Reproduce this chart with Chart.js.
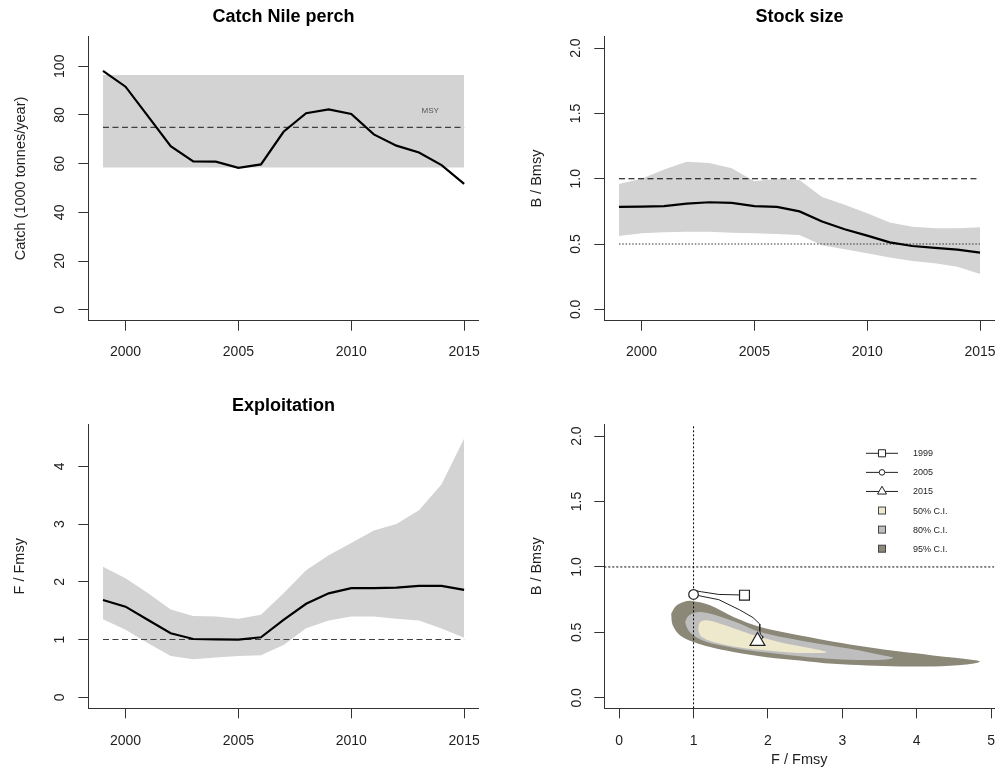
<!DOCTYPE html>
<html>
<head>
<meta charset="utf-8">
<title>Nile perch stock assessment</title>
<script src="https://cdn.jsdelivr.net/npm/chart.js@4.4.1/dist/chart.umd.min.js"></script>
<style>
  html, body { margin: 0; padding: 0; background: #ffffff; }
  body { position: relative; width: 998px; height: 776px; overflow: hidden; }
  canvas { position: absolute; }
</style>
</head>
<body>
<canvas id="catchPanel" width="499" height="388" style="left:0;top:0"></canvas>
<canvas id="stockPanel" width="499" height="388" style="left:499px;top:0"></canvas>
<canvas id="exploitPanel" width="499" height="388" style="left:0;top:388px"></canvas>
<canvas id="kobePanel" width="499" height="388" style="left:499px;top:388px"></canvas>
<script>
// ---------------- data ----------------
const years = [1999, 2000, 2001, 2002, 2003, 2004, 2005, 2006, 2007, 2008, 2009, 2010, 2011, 2012, 2013, 2014, 2015];

// catch, 1000 tonnes/year
const catchKt = [98.1, 91.6, 79.4, 67.2, 60.9, 60.8, 58.3, 59.7, 73.1, 80.7, 82.3, 80.4, 72.0, 67.4, 64.6, 59.4, 51.7];
const msy = 74.9;
const msyLower = 58.4;
const msyUpper = 96.4;
const msyLabelAt = [2013.5, 81.9];

// relative biomass B/Bmsy with credible band
const bRatio      = [0.784, 0.787, 0.790, 0.810, 0.820, 0.815, 0.790, 0.784, 0.750, 0.672, 0.613, 0.564, 0.513, 0.485, 0.470, 0.457, 0.434];
const bRatioUpper = [0.960, 1.000, 1.070, 1.130, 1.120, 1.080, 0.980, 1.000, 0.990, 0.860, 0.800, 0.735, 0.664, 0.633, 0.620, 0.620, 0.628];
const bRatioLower = [0.562, 0.582, 0.590, 0.595, 0.595, 0.587, 0.582, 0.577, 0.570, 0.490, 0.460, 0.430, 0.396, 0.370, 0.352, 0.327, 0.270];

// relative fishing mortality F/Fmsy with credible band
const fRatio      = [1.685, 1.570, 1.340, 1.110, 1.010, 1.004, 1.000, 1.040, 1.340, 1.620, 1.800, 1.890, 1.890, 1.900, 1.930, 1.930, 1.860];
const fRatioUpper = [2.26, 2.06, 1.80, 1.52, 1.41, 1.40, 1.36, 1.43, 1.80, 2.20, 2.46, 2.67, 2.89, 3.00, 3.24, 3.69, 4.48];
const fRatioLower = [1.35, 1.17, 0.935, 0.716, 0.66, 0.69, 0.716, 0.727, 0.906, 1.195, 1.33, 1.40, 1.40, 1.36, 1.33, 1.19, 1.03];

// joint F/Fmsy - B/Bmsy credible regions of the final year, outlines as [F, B]
const ci95 = [[0.699,0.643],[0.76,0.70],[0.865,0.732],[0.977,0.740],[1.223,0.707],[1.537,0.617],[1.895,0.541],[2.433,0.477],[3.33,0.388],[4.22,0.324],[4.81,0.286],[4.85,0.273],[4.67,0.255],[4.22,0.240],[3.78,0.240],[3.33,0.247],[2.88,0.260],[2.43,0.286],[1.985,0.311],[1.537,0.350],[1.223,0.388],[1.0,0.426],[0.82,0.477],[0.72,0.554]];
const ci80 = [[0.887,0.579],[0.92,0.620],[0.977,0.643],[1.089,0.656],[1.313,0.630],[1.626,0.566],[1.895,0.503],[2.433,0.439],[3.105,0.375],[3.553,0.324],[3.687,0.306],[3.553,0.291],[3.105,0.291],[2.657,0.306],[2.209,0.332],[1.761,0.362],[1.447,0.393],[1.178,0.426],[1.0,0.477],[0.918,0.528]];
const ci50 = [[1.066,0.541],[1.089,0.579],[1.178,0.592],[1.358,0.566],[1.626,0.515],[1.895,0.464],[2.254,0.413],[2.612,0.375],[2.79,0.349],[2.612,0.342],[2.254,0.349],[1.895,0.367],[1.537,0.393],[1.268,0.426],[1.111,0.464],[1.07,0.503]];
const ciLabels = ['50% C.I.', '80% C.I.', '95% C.I.'];
const markerYears = [1999, 2005, 2015];

// axis ticks and ranges
const yearTicks = [2000, 2005, 2010, 2015];
const catchTicks = [0, 20, 40, 60, 80, 100];
const ratioTicks = [0, 0.5, 1, 1.5, 2];
const exploitTicks = [0, 1, 2, 3, 4];
const kobeFTicks = [0, 1, 2, 3, 4, 5];
const yearRange = [1998.35, 2015.65];
const catchRange = [-4.5, 112.3];
const stockRange = [-0.087, 2.089];
const exploitRange = [-0.19, 4.727];
const kobeFRange = [-0.2, 5.044];
const kobeBRange = [-0.08, 2.09];
const refLevel = 1;
const limitLevel = 0.5;

// ---------------- styling ----------------
const FONT = "'Liberation Sans', Arial, Helvetica, sans-serif";
const INK = '#1e1e1e';
const AXIS_COLOR = '#333333';
const BAND = '#D3D3D3';
const CI_COLORS = ['#EEE8CD', '#BEBEBE', '#8B8878'];
const PANEL_W = 499, PANEL_H = 388;
const TITLE_SIZE = 18, TITLE_LH = TITLE_SIZE * 1.2;

const pts = (xs, ys) => xs.map((x, i) => ({ x, y: ys[i] }));
const flat = (xs, v) => [{ x: xs[0], y: v }, { x: xs[xs.length - 1], y: v }];
const ring = arr => arr.concat([arr[0]]).map(([f, b]) => ({ x: f, y: b }));

function zeroPad(s) { s.paddingLeft = 0; s.paddingRight = 0; s.paddingTop = 0; s.paddingBottom = 0; }

function axisCommon(ticks, fmt) {
  return {
    type: 'linear',
    afterBuildTicks: s => { s.ticks = ticks.map(v => ({ value: v })); },
    grid: { drawOnChartArea: false, drawTicks: true, tickLength: 10, color: AXIS_COLOR, lineWidth: 1 },
    border: { display: true, color: AXIS_COLOR, width: 1 },
    ticks: { font: { family: FONT, size: 14 }, color: INK, autoSkip: false, callback: v => fmt ? fmt(v) : String(v) }
  };
}

function xAxis(range, ticks, box, o) {
  const a = axisCommon(ticks, o.fmt);
  a.position = 'bottom';
  a.min = range[0]; a.max = range[1];
  a.ticks.padding = o.tickPad; a.ticks.maxRotation = 0; a.ticks.minRotation = 0;
  a.afterFit = s => { s.height = PANEL_H - box.bottom; zeroPad(s); };
  a.title = o.title
    ? { display: true, text: o.title, color: INK, font: { family: FONT, size: 14.5 }, padding: { top: 0, bottom: o.titlePad } }
    : { display: false };
  return a;
}

function yAxis(range, ticks, box, o) {
  const a = axisCommon(ticks, o.fmt);
  a.position = 'left';
  a.min = range[0]; a.max = range[1];
  a.ticks.padding = o.tickPad; a.ticks.minRotation = 90; a.ticks.maxRotation = 90; a.ticks.crossAlign = 'center';
  a.afterFit = s => { s.width = box.left; zeroPad(s); };
  a.title = { display: true, text: o.title, color: INK, font: { family: FONT, size: 14.5 }, padding: { top: o.titlePad, bottom: 0 } };
  return a;
}

function options(box, scales, plugins, title) {
  const p = Object.assign({ legend: { display: false }, tooltip: { enabled: false } }, plugins);
  if (title) {
    p.title = {
      display: true, text: title.text, fullSize: false, color: '#000',
      font: { family: FONT, size: TITLE_SIZE, weight: 'bold' },
      padding: { top: title.pad, bottom: box.top - TITLE_LH - title.pad }
    };
  }
  return {
    responsive: false, animation: false, devicePixelRatio: 1, events: [],
    layout: { autoPadding: false, padding: { left: 0, right: PANEL_W - box.right, top: title ? 0 : box.top, bottom: 0 } },
    scales, plugins: p
  };
}

const lineDefaults = { pointRadius: 0, pointHoverRadius: 0, tension: 0, borderCapStyle: 'butt' };

// small text labels placed in data space
const textMarks = {
  id: 'textMarks',
  afterDatasetsDraw(chart, args, opts) {
    const items = opts.items || [];
    const { ctx, scales } = chart;
    ctx.save();
    for (const it of items) {
      ctx.font = it.size + 'px ' + FONT;
      ctx.fillStyle = it.color;
      ctx.textAlign = 'center';
      ctx.textBaseline = 'middle';
      ctx.fillText(it.text, scales.x.getPixelForValue(it.x), scales.y.getPixelForValue(it.y));
    }
    ctx.restore();
  }
};

function drawMarker(ctx, style, x, y, r) {
  ctx.beginPath();
  if (style === 'rect') {
    const s = r * Math.SQRT1_2;
    ctx.rect(x - s, y - s, 2 * s, 2 * s);
  } else if (style === 'circle') {
    ctx.arc(x, y, r, 0, Math.PI * 2);
  } else {
    ctx.moveTo(x, y - r);
    ctx.lineTo(x + r * 0.866, y + r / 2);
    ctx.lineTo(x - r * 0.866, y + r / 2);
    ctx.closePath();
  }
  ctx.fillStyle = '#fff';
  ctx.fill();
  ctx.stroke();
}

// legend for the phase plot: year markers on a line, then the credible-region swatches
const kobeLegend = {
  id: 'kobeLegend',
  afterDraw(chart, args, opts) {
    const { ctx, chartArea } = chart;
    const cx = chartArea.left + opts.offsetX;
    let y = chartArea.top + opts.offsetY;
    ctx.save();
    ctx.font = opts.fontSize + 'px ' + FONT;
    ctx.textBaseline = 'middle';
    ctx.textAlign = 'left';
    for (const e of opts.entries) {
      ctx.strokeStyle = '#222';
      ctx.lineWidth = 1;
      if (e.marker) {
        ctx.beginPath();
        ctx.moveTo(cx - 16, y); ctx.lineTo(cx + 16, y);
        ctx.stroke();
        drawMarker(ctx, e.marker, cx, y, e.r);
      } else {
        ctx.fillStyle = e.fill;
        ctx.fillRect(cx - 3.5, y - 3.5, 7, 7);
        ctx.strokeStyle = '#444';
        ctx.strokeRect(cx - 3.5, y - 3.5, 7, 7);
      }
      ctx.fillStyle = INK;
      ctx.fillText(e.label, cx + 31, y + 0.5);
      y += opts.rowGap;
    }
    ctx.restore();
  }
};

// ---------------- panel 1: catch ----------------
{
  const box = { left: 88.3, right: 478.8, top: 36.3, bottom: 320.7 };
  new Chart(document.getElementById('catchPanel'), {
    type: 'line',
    data: {
      datasets: [
        Object.assign({ data: pts(years, catchKt), borderColor: '#000', borderWidth: 2.2, order: 1 }, lineDefaults),
        Object.assign({ data: flat(years, msy), borderColor: '#404040', borderWidth: 1.2, borderDash: [6, 3.5], order: 2 }, lineDefaults),
        Object.assign({ data: flat(years, msyUpper), borderWidth: 0, backgroundColor: BAND, fill: '+1', order: 3 }, lineDefaults),
        Object.assign({ data: flat(years, msyLower), borderWidth: 0, fill: false, order: 4 }, lineDefaults)
      ]
    },
    options: options(box, {
      x: xAxis(yearRange, yearTicks, box, { tickPad: 13.1 }),
      y: yAxis(catchRange, catchTicks, box, { tickPad: 6, title: 'Catch (1000 tonnes/year)', titlePad: 12.5 })
    }, {
      textMarks: { items: [{ text: 'MSY', x: msyLabelAt[0], y: msyLabelAt[1], size: 8, color: '#555' }] }
    }, { text: 'Catch Nile perch', pad: 6.6 }),
    plugins: [textMarks]
  });
}

// ---------------- panel 2: stock size ----------------
{
  const box = { left: 105.3, right: 495.7, top: 36.5, bottom: 320.7 };
  new Chart(document.getElementById('stockPanel'), {
    type: 'line',
    data: {
      datasets: [
        Object.assign({ data: pts(years, bRatio), borderColor: '#000', borderWidth: 2.2, order: 1 }, lineDefaults),
        Object.assign({ data: flat(years, refLevel), borderColor: '#000', borderWidth: 1.1, borderDash: [6, 3.5], order: 2 }, lineDefaults),
        Object.assign({ data: flat(years, limitLevel), borderColor: '#333', borderWidth: 1.1, borderDash: [1.5, 1.8], order: 2 }, lineDefaults),
        Object.assign({ data: pts(years, bRatioUpper), borderWidth: 0, backgroundColor: BAND, fill: '+1', order: 3 }, lineDefaults),
        Object.assign({ data: pts(years, bRatioLower), borderWidth: 0, fill: false, order: 4 }, lineDefaults)
      ]
    },
    options: options(box, {
      x: xAxis(yearRange, yearTicks, box, { tickPad: 13.1 }),
      y: yAxis(stockRange, ratioTicks, box, { tickPad: 8, fmt: v => v.toFixed(1), title: 'B / Bmsy', titlePad: 28.8 })
    }, {}, { text: 'Stock size', pad: 6.6 })
  });
}

// ---------------- panel 3: exploitation ----------------
{
  const box = { left: 88.3, right: 478.8, top: 36.3, bottom: 320.3 };
  new Chart(document.getElementById('exploitPanel'), {
    type: 'line',
    data: {
      datasets: [
        Object.assign({ data: pts(years, fRatio), borderColor: '#000', borderWidth: 2.2, order: 1 }, lineDefaults),
        Object.assign({ data: flat(years, refLevel), borderColor: '#404040', borderWidth: 1.1, borderDash: [6, 3.5], order: 2 }, lineDefaults),
        Object.assign({ data: pts(years, fRatioUpper), borderWidth: 0, backgroundColor: BAND, fill: '+1', order: 3 }, lineDefaults),
        Object.assign({ data: pts(years, fRatioLower), borderWidth: 0, fill: false, order: 4 }, lineDefaults)
      ]
    },
    options: options(box, {
      x: xAxis(yearRange, yearTicks, box, { tickPad: 14.3 }),
      y: yAxis(exploitRange, exploitTicks, box, { tickPad: 14.6, title: 'F / Fmsy', titlePad: 11 })
    }, {}, { text: 'Exploitation', pad: 7.2 })
  });
}

// ---------------- panel 4: F/Fmsy vs B/Bmsy ----------------
{
  const box = { left: 105.3, right: 495.3, top: 36.3, bottom: 320.3 };
  const traj = years.map((yr, i) => ({ x: fRatio[i], y: bRatio[i] }));
  const markerStyles = ['rect', 'circle', 'triangle'];
  const markerRadius = [7, 4.8, 8.6];
  const markerSets = markerYears.map((yr, k) => {
    const i = years.indexOf(yr);
    return {
      label: String(yr), data: [{ x: fRatio[i], y: bRatio[i] }], showLine: false,
      pointStyle: markerStyles[k], pointRadius: markerRadius[k], pointHoverRadius: markerRadius[k], pointBackgroundColor: '#fff',
      pointBorderColor: '#222', pointBorderWidth: 1.2, order: 1
    };
  });
  const regions = [ci50, ci80, ci95];
  const regionSets = regions.map((r, k) => ({
    label: ciLabels[k], data: ring(r), showLine: true, fill: 'shape', tension: 0.35,
    backgroundColor: CI_COLORS[k], borderWidth: 0, pointRadius: 0, pointHoverRadius: 0, order: 5 + k
  }));
  new Chart(document.getElementById('kobePanel'), {
    type: 'scatter',
    data: {
      datasets: regionSets.concat([
        { data: [{ x: refLevel, y: kobeBRange[0] }, { x: refLevel, y: kobeBRange[1] }], showLine: true, borderColor: '#000', borderWidth: 1, borderDash: [2, 2], pointRadius: 0, pointHoverRadius: 0, order: 4 },
        { data: [{ x: kobeFRange[0], y: refLevel }, { x: kobeFRange[1], y: refLevel }], showLine: true, borderColor: '#000', borderWidth: 1, borderDash: [2, 2], pointRadius: 0, pointHoverRadius: 0, order: 4 },
        { data: traj, showLine: true, borderColor: '#222', borderWidth: 1, pointRadius: 0, pointHoverRadius: 0, tension: 0, order: 2 }
      ], markerSets)
    },
    options: options(box, {
      x: xAxis(kobeFRange, kobeFTicks, box, { tickPad: 14.8, title: 'F / Fmsy', titlePad: 7.2 }),
      y: yAxis(kobeBRange, ratioTicks, box, { tickPad: 7.6, fmt: v => v.toFixed(1), title: 'B / Bmsy', titlePad: 28.8 })
    }, {
      kobeLegend: {
        offsetX: 277.7, offsetY: 29, rowGap: 19.08, fontSize: 9,
        entries: markerYears.map((yr, k) => ({ label: String(yr), marker: markerStyles[k], r: [5, 2.8, 5.2][k] }))
          .concat(ciLabels.map((l, k) => ({ label: l, fill: CI_COLORS[k] })))
      }
    }, null),
    plugins: [kobeLegend]
  });
}
</script>
</body>
</html>
